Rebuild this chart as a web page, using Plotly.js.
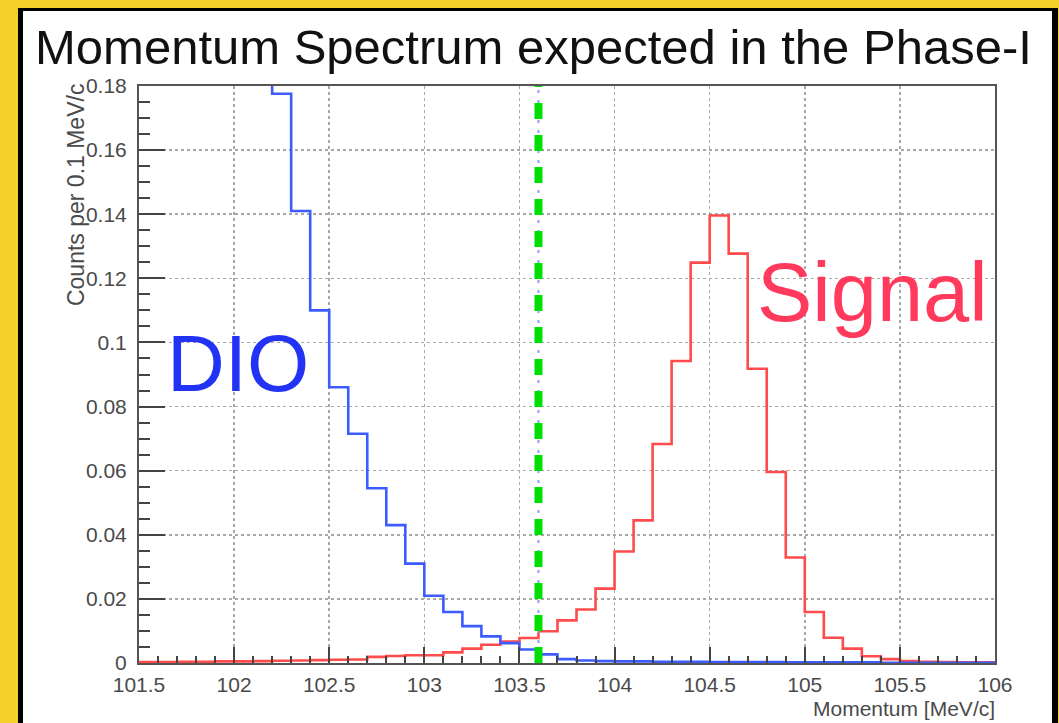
<!DOCTYPE html>
<html>
<head>
<meta charset="utf-8">
<script src="https://cdn.plot.ly/plotly-3.0.1.min.js"></script>
<style>
  html, body { margin: 0; padding: 0; width: 1059px; height: 723px; overflow: hidden; background: #F5CF2A; }
  #frame { position: absolute; left: 18px; top: 8px; width: 1029px; height: 740px;
           background: #ffffff; border-left: 5px solid #000; border-top: 3px solid #000; border-right: 6px solid #000; }
  #chart { position: absolute; left: 0; top: 0; width: 1059px; height: 723px; }
</style>
</head>
<body>
<div id="frame"></div>
<div id="chart"></div>
<script>
// Histogram binning: 0.1 MeV/c bins from 101.5 to 106 MeV/c
const binLow = 101.5;
const binWidth = 0.1;

// Decay-in-orbit (DIO) background, counts per bin (first bins run off the top of the frame)
const dioCounts = [
  0.62, 0.55, 0.48, 0.42, 0.36, 0.31, 0.24, 0.1776, 0.141, 0.110,
  0.086, 0.0715, 0.0545, 0.043, 0.031, 0.021, 0.0159, 0.0115, 0.0083, 0.0062,
  0.0042, 0.0027, 0.0012, 0.0008, 0.0006, 0.0005, 0.0005, 0.0004, 0.0004, 0.0004,
  0.0003, 0.0003, 0.0003, 0.0003, 0.0002, 0.0002, 0.0002, 0.0002, 0.0002, 0.0001,
  0.0001, 0.0001, 0.0001, 0.0001, 0.0001
];

// Conversion-electron signal, counts per bin
const signalCounts = [
  0.0003, 0.0003, 0.0004, 0.0004, 0.0005, 0.0005, 0.0006, 0.0007, 0.0008, 0.0009,
  0.0010, 0.0011, 0.0019, 0.0022, 0.0024, 0.0024, 0.0033, 0.0045, 0.0057, 0.0067,
  0.0078, 0.0099, 0.0133, 0.0167, 0.0232, 0.0348, 0.0445, 0.0683, 0.0942, 0.1249,
  0.1396, 0.1277, 0.0918, 0.0596, 0.0329, 0.0159, 0.0079, 0.0045, 0.0021, 0.0012,
  0.0006, 0.0004, 0.0003, 0.0002, 0.0002
];

// Momentum cut position
const cutMomentum = 103.6;

// Axis ranges and labels
const xRange = [101.5, 106];
const yRange = [0, 0.18];
const chartTitle = 'Momentum Spectrum expected in the Phase-I';
const xTitle = 'Momentum [MeV/c]';
const yTitle = 'Counts per 0.1 MeV/c';
const dioLabel = 'DIO';
const signalLabel = 'Signal';

// Turn per-bin counts into a step outline: left edge of each bin plus the final right edge
function stepOutline(counts) {
  const xs = [], ys = [];
  counts.forEach((c, i) => { xs.push(+(binLow + i * binWidth).toFixed(2)); ys.push(c); });
  xs.push(+(binLow + counts.length * binWidth).toFixed(2));
  ys.push(counts[counts.length - 1]);
  return { x: xs, y: ys };
}

const dio = stepOutline(dioCounts);
const sig = stepOutline(signalCounts);

const traces = [
  { x: sig.x, y: sig.y, type: 'scatter', mode: 'lines', line: { shape: 'hv', color: '#FF4B4B', width: 2.6 },
    hoverinfo: 'skip', showlegend: false },
  { x: dio.x, y: dio.y, type: 'scatter', mode: 'lines', line: { shape: 'hv', color: '#3D5CFF', width: 2.6 },
    hoverinfo: 'skip', showlegend: false }
];

const fontFamily = 'Liberation Sans, Arial, sans-serif';
const axisFont = { family: fontFamily, size: 21, color: '#4a4a4a' };

const layout = {
  width: 1059, height: 723,
  paper_bgcolor: 'rgba(0,0,0,0)',
  plot_bgcolor: '#ffffff',
  margin: { l: 139, r: 64, t: 86, b: 60, pad: 0 },
  showlegend: false,
  xaxis: {
    range: xRange, tick0: 101.5, dtick: 0.5, ticks: 'inside', ticklen: 16, tickwidth: 2, tickcolor: '#444',
    minor: { dtick: 0.1, tick0: 101.5, ticks: 'inside', ticklen: 7, tickwidth: 2, tickcolor: '#444', showgrid: false },
    showgrid: true, gridcolor: '#a8a8a8', gridwidth: 1.5, griddash: 'dot',
    showline: true, linecolor: '#555', linewidth: 2, mirror: true,
    zeroline: false, tickfont: axisFont, ticklabelstandoff: 2, fixedrange: true
  },
  yaxis: {
    range: yRange, tick0: 0, dtick: 0.02, ticks: 'inside', ticklen: 26, tickwidth: 2, tickcolor: '#444',
    minor: { dtick: 0.005, tick0: 0, ticks: 'inside', ticklen: 11, tickwidth: 2, tickcolor: '#444', showgrid: false },
    showgrid: true, gridcolor: '#a8a8a8', gridwidth: 1.5, griddash: 'dot',
    showline: true, linecolor: '#555', linewidth: 2, mirror: true,
    zeroline: false, tickfont: axisFont, ticklabelstandoff: 6, fixedrange: true
  },
  shapes: [
    { type: 'line', xref: 'x', yref: 'y', x0: cutMomentum, x1: cutMomentum, y0: yRange[0], y1: yRange[1],
      line: { color: '#8C9BFF', width: 2, dash: '3px,7px' } },
    { type: 'line', xref: 'x', yref: 'y', x0: cutMomentum, x1: cutMomentum, y0: yRange[0], y1: yRange[1],
      line: { color: '#00E000', width: 8, dash: '16px,16px' } }
  ],
  annotations: [
    { text: chartTitle, xref: 'paper', yref: 'paper', x: 0.4614, y: 1.018, xanchor: 'center', yanchor: 'bottom',
      showarrow: false, font: { family: fontFamily, size: 49, color: '#111' } },
    { text: yTitle, xref: 'paper', yref: 'paper', x: -0.0736, y: 0.811, xanchor: 'center', yanchor: 'middle',
      textangle: -90, showarrow: false, font: { family: fontFamily, size: 23, color: '#4a4a4a' } },
    { text: xTitle, xref: 'paper', yref: 'paper', x: 1.002, y: -0.079, xanchor: 'right', yanchor: 'middle',
      showarrow: false, font: { family: fontFamily, size: 21, color: '#4a4a4a' } },
    { text: dioLabel, xref: 'x', yref: 'y', x: 101.635, y: 0.0935, xanchor: 'left', yanchor: 'middle',
      showarrow: false, font: { family: fontFamily, size: 80, color: '#2233F5' } },
    { text: signalLabel, xref: 'x', yref: 'y', x: 104.74, y: 0.1156, xanchor: 'left', yanchor: 'middle',
      showarrow: false, font: { family: fontFamily, size: 83, color: '#FF3A5C' } }
  ]
};

Plotly.newPlot('chart', traces, layout, { staticPlot: true, displayModeBar: false });
</script>
</body>
</html>
